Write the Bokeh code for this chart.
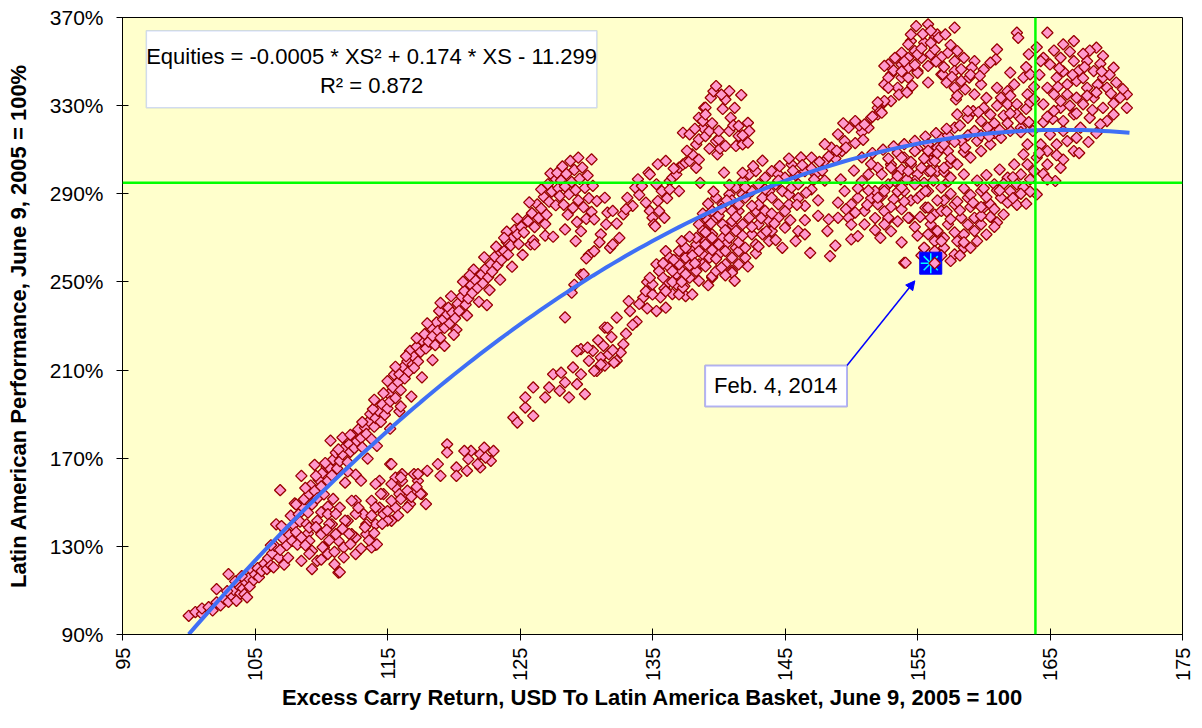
import math
from bokeh.plotting import figure
from bokeh.models import (ColumnDataSource, FixedTicker, PrintfTickFormatter, Span,
                          BoxAnnotation, Label, Arrow, NormalHead)
from bokeh.embed import file_html
from bokeh.resources import INLINE

# ---------------- data (x = excess carry return index, y = equity performance %) -------------
x_ticks = [95, 105, 115, 125, 135, 145, 155, 165, 175]
y_ticks = [90, 130, 170, 210, 250, 290, 330, 370]

# trend line coefficients (fraction units), as fitted
trend_a, trend_b, trend_c = -0.000526, 0.1746, -11.299
trend_x_start, trend_x_end = 100.0, 171.0

latest_xs = 163.9      # vertical green reference
latest_eq = 295.0      # horizontal green reference
feb4_x, feb4_y = 156.0, 258.5

tail_pts = [
    (100.0, 98.5), (100.5, 100.2), (101.0, 99.3), (101.0, 101.8), (101.5, 102.4), (101.8, 100.9),
    (102.1, 104.6), (102.1, 110.6), (102.4, 103.2), (102.7, 106.1), (103.0, 104.8), (103.0, 117.4),
    (103.2, 107.9), (103.4, 110.2), (103.6, 105.3), (103.7, 112.5), (103.9, 108.6), (104.1, 110.9),
    (104.2, 108.3), (104.3, 113.8), (104.5, 115.6), (104.6, 111.8), (104.8, 119.0), (104.9, 114.7),
    (105.0, 117.3), (105.2, 120.1), (105.3, 116.0), (105.5, 118.8), (105.7, 122.2), (105.9, 119.7),
    (106.0, 124.6), (106.2, 121.3), (102.9, 109.7), (103.5, 114.1), (104.0, 116.5), (104.4, 106.9),
]

branch_a = [
    (106.3, 126.8), (106.5, 130.2), (106.6, 140.0), (106.8, 124.9), (106.9, 128.4), (106.9, 155.5),
    (107.1, 133.6), (107.2, 121.7), (107.3, 137.1), (107.4, 130.5), (107.6, 135.2), (107.7, 143.9),
    (107.8, 132.5), (107.9, 139.8), (108.0, 149.5), (108.1, 136.4), (108.3, 144.6), (108.4, 141.2),
    (108.5, 162.0), (108.6, 147.8), (108.7, 151.4), (108.9, 140.0), (109.0, 145.3), (109.1, 153.7),
    (109.2, 157.6), (109.3, 149.0), (109.5, 167.0), (109.5, 155.1), (109.7, 151.8), (109.8, 160.3),
    (110.0, 157.2), (110.1, 163.4), (110.2, 153.6), (110.4, 166.1), (110.5, 159.8), (110.6, 165.8),
    (110.7, 178.0), (110.8, 162.2), (110.9, 169.4), (111.1, 172.5), (111.2, 165.3), (111.4, 168.7),
    (111.6, 171.8), (111.6, 179.4), (111.8, 175.1), (112.0, 168.2), (112.1, 176.3), (112.2, 172.9),
    (112.4, 180.2), (112.5, 174.6), (112.7, 177.8), (112.8, 183.1), (113.0, 179.2), (113.1, 174.9),
    (113.3, 183.9), (113.4, 181.0), (113.6, 186.8), (113.7, 190.0), (113.8, 178.6), (114.0, 184.3),
    (114.1, 188.2), (114.3, 191.5), (114.5, 186.5), (114.6, 194.4), (114.8, 189.7), (115.0, 205.0),
    (115.0, 192.6), (115.1, 199.1), (115.2, 195.8), (115.4, 202.2), (115.5, 208.0), (115.6, 197.3),
    (115.8, 204.5), (115.9, 208.1), (116.0, 200.9), (116.2, 211.4), (116.3, 206.2), (116.5, 214.0),
    (116.6, 209.3), (116.7, 218.7), (116.9, 212.5), (117.0, 216.0), (117.2, 220.6), (117.3, 213.9),
    (117.5, 218.3), (117.6, 223.5), (117.8, 226.3), (117.9, 219.8), (118.1, 222.9), (118.3, 229.2),
    (118.4, 225.4), (118.6, 221.3), (118.7, 231.6), (118.8, 227.8), (119.0, 224.6), (119.2, 233.0),
    (119.3, 229.1), (119.5, 235.4), (119.6, 238.3), (119.7, 231.2), (119.9, 236.0), (120.1, 233.5),
    (120.3, 240.1), (120.4, 236.8), (120.6, 243.4), (120.8, 245.9), (120.9, 239.7), (121.1, 242.5),
    (121.3, 248.6), (121.4, 245.0), (121.6, 251.0), (121.8, 247.3), (122.1, 253.5), (122.2, 249.4),
    (122.4, 256.0), (122.6, 252.1), (122.8, 258.0), (122.9, 254.6), (123.1, 261.4), (123.3, 257.5),
    (123.5, 263.8), (123.6, 259.9), (123.8, 264.0), (124.0, 268.1), (124.1, 262.4), (124.3, 266.5),
    (124.5, 270.4), (124.6, 273.6), (124.8, 271.6), (124.9, 267.2), (125.1, 275.0), (125.3, 272.4),
    (125.5, 278.1), (125.6, 277.6), (125.8, 267.0), (125.9, 281.2), (126.1, 274.9), (126.3, 285.2),
    (126.4, 279.0), (126.6, 283.3), (126.8, 288.6), (126.9, 276.3), (127.1, 294.3), (127.2, 286.4),
    (127.4, 291.0), (127.6, 297.3), (127.7, 284.8), (127.9, 292.5),
]

branch_a_edges = [
    (106.2, 130.5), (106.4, 120.5), (107.0, 139.2), (107.5, 124.8), (108.1, 149.0), (108.2, 130.8),
    (108.8, 156.5), (109.0, 135.9), (109.6, 162.0), (110.0, 145.5), (110.3, 167.8), (110.9, 151.5),
    (111.3, 174.0), (111.8, 158.9), (112.2, 180.6), (112.6, 162.5), (113.1, 186.4), (113.5, 169.8),
    (113.9, 192.3), (114.2, 175.6), (114.7, 199.5), (115.2, 183.4), (115.6, 211.5), (115.9, 191.2),
    (116.4, 216.3), (116.8, 198.0), (117.2, 224.5), (117.6, 206.7), (118.0, 231.2), (118.4, 214.5),
    (118.9, 236.8), (119.3, 221.0), (119.8, 243.5), (120.2, 228.3), (120.7, 250.1), (121.0, 234.8),
    (121.5, 255.6), (121.9, 241.0), (122.3, 261.2), (122.7, 246.3), (123.2, 266.0), (123.5, 251.0),
    (124.0, 272.8), (124.4, 256.9), (124.8, 278.6), (125.2, 262.3), (125.7, 286.1), (126.0, 268.8),
    (126.6, 292.0), (126.9, 271.0), (127.3, 299.2), (127.0, 280.5), (119.0, 240.5), (120.0, 226.0),
    (121.2, 253.0), (122.5, 239.5), (123.8, 270.0), (117.0, 211.0), (116.0, 193.5), (114.0, 196.5),
    (112.0, 164.0), (110.5, 148.0),
]

peak_a = [
    (127.8, 299.5), (128.0, 289.0), (128.1, 296.0), (128.2, 302.4), (128.3, 285.0), (128.4, 293.3),
    (128.5, 299.0), (128.6, 280.5), (128.7, 289.8), (128.8, 304.9), (128.9, 295.4), (129.0, 283.6),
    (129.1, 300.8), (129.2, 291.7), (129.3, 277.2), (129.4, 306.4), (129.4, 287.0), (129.5, 296.8),
    (129.6, 273.0), (129.7, 301.9), (129.8, 283.9), (129.9, 292.7), (130.0, 278.6), (130.1, 298.3),
    (130.2, 288.0), (130.4, 305.6), (130.4, 281.8), (130.5, 293.6), (130.6, 278.4), (130.8, 286.7),
    (127.5, 270.5), (126.1, 267.0), (128.4, 273.8), (129.2, 268.5), (130.2, 262.2), (129.6, 253.2),
    (129.1, 248.7), (128.9, 245.1), (129.8, 253.5), (130.0, 260.7),
]

branch_a2 = [
    (130.6, 264.0), (131.1, 271.6), (131.4, 288.2), (131.5, 276.1), (131.6, 281.4), (131.8, 265.5),
    (132.0, 267.0), (132.0, 282.2), (132.5, 270.0), (132.8, 280.7), (133.1, 288.2), (133.5, 284.5),
    (133.7, 292.8), (133.9, 296.6), (134.2, 293.5), (134.7, 299.6), (134.8, 282.2), (134.8, 298.8),
    (135.0, 279.1), (135.1, 276.1), (135.2, 275.3), (135.3, 294.3), (135.4, 286.7), (135.4, 303.4),
    (135.5, 282.2), (135.7, 291.2), (135.9, 279.1), (136.0, 304.9), (136.1, 288.0), (136.3, 295.8),
    (136.5, 297.3), (136.8, 298.8), (137.0, 291.2), (137.0, 301.9), (137.3, 303.3), (137.3, 317.7),
    (137.5, 304.1), (137.8, 304.9), (137.8, 317.0), (138.0, 307.9), (138.3, 301.8), (138.3, 312.4),
    (138.5, 314.7), (138.5, 324.5), (138.8, 320.0), (138.8, 323.0), (138.9, 329.0), (139.0, 316.2),
    (139.0, 329.1), (139.3, 318.5), (139.4, 333.6), (139.6, 336.5), (139.8, 338.9), (139.8, 313.9),
    (139.9, 307.9), (140.1, 310.5), (140.0, 314.7), (140.4, 299.6), (140.3, 328.5), (140.5, 332.8),
    (140.5, 311.7), (140.8, 336.6), (140.8, 318.5), (140.9, 324.5), (141.1, 321.0), (141.2, 329.0),
    (141.3, 311.7), (141.5, 316.2), (141.5, 320.8), (141.7, 334.8), (141.8, 312.4), (142.2, 322.2),
    (142.2, 313.2), (142.3, 318.5), (131.0, 268.0), (132.3, 276.5), (133.0, 283.0), (134.0, 289.5),
    (134.5, 286.0), (136.3, 292.0), (136.6, 301.5), (137.6, 309.5), (138.5, 305.5), (139.3, 310.5),
    (139.5, 322.0), (140.2, 335.0), (140.0, 318.5), (141.8, 316.5), (138.2, 319.5), (139.0, 326.0),
]

branch_b = [
    (109.3, 119.7), (111.3, 118.1), (111.0, 121.9), (114.1, 130.7), (109.3, 128.0), (110.2, 129.5),
    (111.3, 132.5), (112.6, 134.0), (113.4, 135.5), (114.1, 140.0), (115.3, 141.6), (115.6, 147.6),
    (116.7, 149.2), (117.6, 153.7), (117.9, 149.2), (117.3, 159.7), (117.0, 162.8), (116.1, 159.7),
    (115.6, 156.7), (114.7, 153.7), (113.8, 150.7), (112.6, 150.7), (111.4, 147.6), (110.5, 144.6),
    (109.7, 141.6), (109.1, 138.5), (110.0, 135.5), (110.8, 140.0), (112.0, 141.6), (113.2, 144.6),
    (114.4, 147.6), (115.3, 150.7), (116.4, 153.7), (112.3, 135.5), (111.7, 129.5), (112.6, 126.5),
    (113.8, 129.5), (113.4, 140.0), (114.7, 144.6), (115.9, 153.7), (117.0, 155.2), (109.1, 132.5),
    (108.5, 134.0), (108.5, 123.4), (109.7, 123.4), (110.5, 126.5), (111.7, 125.0), (111.1, 135.5),
    (114.4, 159.7), (115.6, 161.2), (115.2, 167.3), (116.1, 162.8), (113.0, 159.8), (114.5, 153.8),
    (116.0, 161.3), (117.5, 153.8), (116.5, 147.7), (115.0, 141.7), (113.3, 138.7), (112.1, 135.7),
    (110.6, 132.7), (110.1, 129.6), (109.1, 126.6), (109.6, 138.7), (111.1, 144.7), (112.3, 150.7),
    (114.1, 147.7), (113.6, 132.7), (114.6, 140.2), (116.5, 155.3), (117.3, 162.8), (115.3, 158.3),
    (114.1, 158.3), (111.8, 141.7), (112.6, 144.7), (110.6, 140.2), (111.4, 118.3), (114.2, 130.9),
    (115.3, 167.3), (108.8, 130.5), (110.0, 124.0), (111.0, 127.5), (112.2, 131.0), (113.0, 129.0),
    (114.0, 136.0), (115.0, 146.0), (116.0, 151.5), (117.2, 157.0), (112.8, 147.5), (111.6, 138.0),
    (110.4, 137.5), (113.8, 144.0), (115.8, 144.0), (116.8, 152.5),
]

branch_b2 = [
    (118.0, 164.3), (118.8, 167.3), (119.0, 162.0), (119.5, 176.3), (119.5, 172.6), (120.2, 165.8),
    (121.0, 164.3), (121.3, 173.3), (122.0, 171.8), (122.3, 174.8), (123.0, 173.3), (122.8, 168.8),
    (122.0, 165.8), (120.2, 162.0), (121.1, 169.6), (120.8, 173.3), (122.4, 170.3), (121.8, 167.3),
]

branch_c = [
    (124.5, 188.5), (124.8, 186.2), (126.0, 189.2), (125.4, 193.0), (126.0, 202.1), (125.4, 197.6),
    (127.2, 202.1), (126.9, 197.6), (128.0, 200.6), (127.5, 208.1), (128.4, 204.4), (128.7, 197.6),
    (129.3, 203.6), (129.9, 199.1), (129.6, 219.5), (130.5, 218.7), (130.2, 214.2), (131.1, 215.7),
    (130.8, 209.6), (131.4, 212.0), (129.6, 208.1), (129.0, 211.2), (131.7, 217.2), (132.3, 214.2),
    (131.4, 229.3), (128.4, 233.9), (128.1, 208.8), (129.3, 218.6), (130.1, 220.2), (131.1, 212.6),
    (132.1, 213.4), (130.6, 209.6), (131.6, 229.2), (132.3, 233.8), (133.3, 236.8), (132.8, 221.7),
    (133.2, 241.3), (134.3, 242.9), (134.8, 245.9), (135.3, 236.8), (136.0, 238.3), (135.5, 255.0),
    (136.3, 256.5), (137.0, 261.0), (136.8, 253.5), (137.4, 248.1), (137.5, 243.6), (138.5, 258.0),
    (138.0, 264.0), (138.3, 267.0), (139.0, 268.6), (139.5, 271.6), (139.5, 252.0), (140.3, 270.0),
    (141.0, 276.1), (141.5, 282.2), (141.0, 255.0), (141.8, 289.7), (141.3, 265.5), (140.0, 262.5),
    (133.8, 232.0), (134.0, 240.0), (134.6, 250.0), (135.9, 247.0), (136.5, 244.5), (137.2, 255.0),
    (133.0, 226.5), (132.6, 218.0), (131.9, 225.0), (130.9, 223.5), (131.3, 221.0), (132.0, 219.0),
    (133.5, 230.5), (134.6, 238.0), (135.6, 243.0), (136.2, 250.0), (137.8, 257.5), (138.8, 262.5),
    (139.8, 266.5), (140.6, 267.5),
]

cluster_m = [
    (134.5, 245.8), (135.0, 244.3), (135.0, 248.9), (134.8, 251.9), (135.3, 258.0), (135.5, 254.9),
    (135.8, 251.9), (136.0, 245.8), (136.0, 264.0), (136.3, 261.0), (136.5, 254.9), (136.8, 248.9),
    (137.0, 244.3), (137.0, 258.0), (137.0, 264.0), (137.3, 247.4), (137.5, 261.0), (137.5, 265.5),
    (137.8, 251.9), (138.0, 244.3), (138.3, 254.9), (138.3, 270.0), (138.5, 264.0), (138.5, 276.1),
    (138.8, 258.0), (138.8, 273.1), (139.0, 267.0), (139.0, 279.1), (139.3, 261.0), (139.3, 276.1),
    (139.5, 270.0), (139.5, 282.2), (139.5, 252.6), (139.8, 254.9), (139.8, 279.1), (139.8, 288.2),
    (140.0, 267.0), (140.3, 276.1), (140.3, 285.2), (140.5, 258.0), (140.5, 264.0), (140.8, 270.0),
    (140.8, 289.7), (141.0, 261.0), (141.0, 254.2), (141.0, 277.6), (141.0, 282.2), (141.3, 273.1),
    (141.3, 292.8), (141.5, 258.0), (141.5, 264.0), (141.5, 285.2), (141.8, 276.1), (141.8, 295.8),
    (142.0, 261.0), (142.0, 265.5), (142.0, 288.2), (142.3, 279.1), (142.3, 298.8), (142.5, 271.6),
    (142.5, 291.2), (142.8, 267.0), (142.8, 282.2), (142.8, 300.3), (143.0, 276.1), (143.0, 294.3),
    (143.3, 271.6), (143.3, 288.2), (143.5, 282.2), (143.5, 297.3), (143.8, 277.6), (143.8, 291.2),
    (144.0, 273.1), (144.0, 288.2), (144.0, 300.3), (144.3, 294.3), (144.5, 279.1), (144.5, 285.2),
    (144.5, 298.8), (144.8, 291.2), (145.0, 274.6), (145.0, 297.3), (145.3, 285.2), (145.3, 289.7),
    (145.5, 292.8), (145.5, 303.3), (146.0, 294.3), (146.0, 273.1), (146.5, 271.6), (146.5, 300.3),
    (146.9, 263.2), (147.0, 306.4), (147.3, 298.8), (148.0, 304.9), (148.4, 261.7), (148.5, 310.9),
    (149.3, 309.4), (149.5, 313.9), (138.0, 262.0), (139.0, 272.5), (140.0, 280.0), (141.0, 287.0),
    (142.0, 293.0), (143.0, 285.0), (144.0, 281.0), (142.5, 275.0), (141.5, 268.0), (140.5, 273.5),
    (139.5, 264.5), (143.5, 292.0), (144.5, 296.0), (145.0, 282.0), (146.0, 288.0), (145.8, 298.5),
    (146.5, 284.5), (147.0, 292.0), (147.5, 287.0), (148.0, 296.0), (136.5, 250.0), (137.5, 253.5),
    (138.5, 250.5), (139.0, 257.0), (139.8, 260.5), (140.5, 253.0), (141.3, 279.5), (142.5, 284.5),
    (143.2, 279.0), (144.2, 276.5), (143.8, 268.5), (142.8, 263.0), (141.8, 271.0), (140.2, 283.0),
    (139.2, 285.5), (138.8, 281.0), (140.8, 294.0), (141.8, 299.5), (142.6, 302.5), (143.3, 305.0),
    (144.6, 302.5), (145.3, 306.0), (146.2, 306.5), (146.5, 278.0), (145.8, 268.5), (144.8, 265.5),
    (147.5, 280.0), (147.8, 300.5), (148.8, 306.0), (149.0, 317.0), (148.0, 312.5), (149.8, 320.0),
    (150.8, 318.0), (151.5, 324.5), (137.2, 250.0), (138.2, 258.5), (139.2, 248.5), (140.2, 256.5),
    (141.2, 250.5), (142.2, 257.0), (143.0, 266.0), (143.6, 273.0), (144.3, 269.0), (145.4, 278.0),
    (145.9, 285.0), (146.6, 290.5), (147.2, 296.5), (140.6, 287.0), (139.6, 291.0), (138.6, 295.0),
    (139.4, 276.5), (137.8, 270.5), (137.2, 268.5), (136.6, 260.0), (135.8, 258.5), (145.6, 300.5),
    (146.3, 303.0), (147.0, 301.5), (147.6, 304.5), (148.3, 307.0), (148.9, 309.5), (149.6, 311.0),
    (150.3, 313.0), (150.9, 314.5), (149.4, 322.0), (150.6, 321.0), (151.3, 320.0), (152.3, 330.5),
    (152.0, 329.0),
]

cluster_n = [
    (149.5, 291.2), (150.5, 288.2), (150.0, 285.2), (151.0, 282.2), (152.0, 285.2), (151.8, 291.2),
    (152.8, 294.3), (153.5, 298.8), (154.5, 303.3), (155.8, 307.9), (156.5, 310.9), (153.0, 303.3),
    (154.0, 306.4), (155.0, 298.8), (155.8, 300.3), (156.5, 300.3), (154.0, 291.2), (154.8, 295.8),
    (155.8, 291.2), (156.8, 292.8), (150.8, 295.8), (151.3, 298.8), (152.0, 301.8), (149.8, 279.1),
    (149.0, 279.1), (148.3, 278.4), (148.2, 273.1), (150.0, 269.3), (150.5, 270.8), (151.0, 276.1),
    (152.8, 278.4), (154.4, 279.1), (155.6, 283.7), (156.3, 280.6), (156.0, 276.1), (156.5, 273.1),
    (156.3, 268.5), (155.5, 265.5), (154.0, 258.7), (151.5, 288.0), (152.5, 282.0), (153.2, 287.5),
    (153.8, 283.0), (154.5, 287.0), (155.2, 279.5), (153.0, 273.0), (152.2, 270.0), (155.0, 271.0),
    (157.0, 287.0), (157.3, 295.5), (157.5, 304.0), (150.2, 300.5), (149.2, 296.5), (150.5, 292.5),
    (151.2, 285.0), (152.3, 289.0), (153.5, 291.0), (154.2, 296.5), (155.5, 295.0), (156.2, 296.0),
    (153.8, 301.0), (152.8, 306.0), (151.5, 303.5), (150.0, 276.0), (151.8, 273.5), (153.5, 277.5),
    (154.8, 275.0), (153.8, 268.0), (155.3, 262.0), (157.0, 300.0), (156.0, 305.0), (149.0, 286.0),
    (148.8, 266.5), (150.3, 281.5), (151.3, 291.5), (152.5, 292.5), (153.0, 284.0), (154.0, 286.5),
    (155.0, 288.0), (151.8, 279.0), (149.6, 283.0), (150.8, 306.5), (151.6, 308.5), (152.4, 310.0),
    (153.2, 311.5), (154.0, 312.5), (154.8, 314.0), (155.6, 316.0), (153.5, 308.5), (155.0, 310.5),
]

peak_2 = [
    (150.3, 323.0), (151.0, 321.5), (152.0, 326.0), (152.2, 327.5), (153.0, 332.1), (152.5, 339.6),
    (153.0, 344.2), (152.8, 348.7), (153.8, 348.7), (153.8, 342.7), (154.3, 351.7), (154.8, 354.8),
    (154.5, 359.3), (154.9, 366.1), (155.8, 366.9), (155.5, 358.6), (155.3, 351.7), (156.0, 353.3),
    (156.3, 360.8), (155.8, 348.0), (155.0, 345.7), (154.3, 342.7), (153.5, 338.1), (156.8, 344.2),
    (156.5, 362.3), (157.8, 365.4), (156.6, 360.8), (157.1, 362.3), (154.5, 362.3), (154.3, 357.8),
    (155.0, 353.3), (153.8, 354.0), (153.3, 351.7), (152.5, 348.0), (154.3, 347.2), (152.8, 342.7),
    (155.0, 344.9), (156.3, 355.5), (157.3, 354.0), (158.0, 354.8), (158.5, 351.7), (157.8, 350.2),
    (159.3, 350.2), (160.0, 346.4), (159.1, 347.2), (156.9, 344.2), (157.8, 345.7), (158.3, 341.2),
    (158.9, 342.7), (159.8, 339.6), (158.6, 337.4), (157.8, 338.1), (157.9, 332.8), (159.3, 335.1),
    (161.0, 355.5), (160.9, 351.0), (152.8, 338.1), (152.5, 332.1), (152.3, 326.8), (153.2, 346.0),
    (154.0, 350.0), (155.3, 356.0), (156.0, 358.5), (156.8, 352.0), (157.5, 357.5), (158.3, 346.5),
    (159.0, 344.0), (158.0, 334.5), (157.2, 340.5), (155.8, 340.5), (154.6, 339.0), (153.6, 335.0),
    (152.0, 331.5), (151.6, 325.0), (159.7, 343.5), (160.5, 349.5), (153.8, 345.5), (154.8, 348.5),
    (156.4, 350.0), (157.0, 347.5), (157.6, 343.0), (155.4, 362.5), (156.0, 364.0), (154.2, 336.0),
]

band_u = [
    (152.3, 298.8), (153.0, 301.8), (153.8, 306.4), (154.8, 309.4), (155.8, 312.4), (156.8, 315.4),
    (157.8, 320.0), (158.8, 324.5), (159.8, 323.0), (160.5, 326.0), (161.3, 333.6), (161.8, 336.6),
    (162.3, 339.6), (163.0, 342.7), (163.5, 344.2), (161.0, 338.1), (161.8, 330.6), (162.5, 330.6),
    (163.3, 335.1), (160.3, 320.0), (159.3, 318.5), (158.3, 313.9), (157.3, 309.4), (156.3, 304.9),
    (155.3, 301.8), (154.3, 300.3), (153.3, 295.8), (152.5, 291.2), (152.0, 288.2), (156.0, 300.3),
    (157.0, 301.8), (158.0, 303.3), (159.0, 306.4), (159.8, 309.4), (160.5, 312.4), (161.3, 315.4),
    (162.0, 318.5), (162.8, 320.0), (154.8, 294.3), (153.8, 292.8), (157.5, 297.3), (158.5, 298.8),
    (155.3, 289.7), (152.8, 279.1), (154.3, 279.1), (152.5, 276.1), (160.0, 329.0), (160.8, 322.0),
    (161.5, 325.5), (162.5, 326.0), (163.2, 328.5), (159.5, 314.0), (158.5, 309.0), (157.5, 306.0),
    (156.5, 308.5), (155.5, 306.0), (153.5, 298.0), (154.5, 304.5), (155.8, 309.5), (156.8, 311.0),
    (157.8, 313.5), (158.8, 316.5), (159.8, 316.5), (160.8, 317.5), (161.8, 322.0), (162.8, 324.0),
    (163.5, 331.5), (162.0, 334.5), (161.0, 330.0), (160.2, 333.5), (159.2, 327.5), (158.2, 321.0),
    (157.3, 316.5), (163.7, 318.5), (164.5, 322.5), (165.2, 324.0), (156.4, 317.5), (157.2, 319.5),
    (158.0, 326.0), (158.8, 327.5), (159.6, 327.0), (160.4, 316.0), (161.2, 319.0), (162.0, 326.5),
    (162.8, 318.0), (163.4, 322.5), (157.0, 312.5), (158.6, 311.0),
]

band_l = [
    (155.5, 265.5), (156.3, 264.0), (157.0, 265.5), (157.8, 262.5), (158.5, 265.5), (159.0, 265.5),
    (155.8, 271.6), (156.5, 273.1), (157.3, 276.1), (158.3, 279.1), (159.3, 279.1), (160.0, 283.7),
    (156.0, 279.1), (155.8, 283.7), (156.8, 282.2), (157.8, 285.2), (158.8, 288.2), (159.8, 291.2),
    (160.8, 294.3), (161.8, 297.3), (162.8, 298.8), (161.3, 288.2), (160.5, 285.2), (162.0, 291.2),
    (162.5, 294.3), (159.3, 273.1), (158.5, 271.6), (158.0, 268.5), (159.8, 276.1), (161.5, 280.6),
    (163.3, 303.3), (164.0, 306.4), (164.8, 309.4), (165.5, 312.4), (166.3, 313.9), (166.8, 309.4),
    (165.8, 301.8), (164.8, 303.3), (163.8, 300.3), (165.4, 295.8), (164.0, 289.7), (163.0, 307.9),
    (164.3, 312.4), (165.0, 316.9), (166.0, 318.5), (167.0, 315.4), (163.3, 312.4), (162.3, 303.3),
    (154.1, 258.7), (155.6, 291.2), (157.0, 270.0), (159.0, 284.0), (160.5, 279.5), (161.0, 291.5),
    (162.5, 285.0), (163.0, 293.0), (161.2, 301.0), (160.2, 298.5), (159.5, 296.0), (158.5, 292.5),
    (157.5, 290.0), (156.5, 287.0), (167.9, 313.5), (168.5, 317.5), (156.8, 268.5), (157.8, 272.5),
    (158.8, 276.0), (159.8, 280.0), (160.8, 283.0), (161.8, 286.0), (162.8, 290.0), (163.5, 296.5),
    (164.5, 299.0), (161.0, 277.0), (160.2, 271.5), (159.5, 268.5), (158.2, 262.0), (156.2, 260.5),
    (157.2, 282.0), (158.0, 286.5), (159.0, 289.5), (160.0, 292.5), (161.5, 294.5), (162.2, 297.5),
    (163.2, 285.5), (164.8, 296.5), (166.0, 305.5), (167.2, 308.5), (165.5, 307.5), (164.2, 308.5),
    (157.5, 278.5), (158.2, 282.5), (159.2, 286.0), (160.2, 288.5), (161.2, 291.5), (162.2, 288.0),
    (163.5, 291.0), (160.8, 275.0), (159.8, 284.0), (158.5, 268.0), (157.5, 259.5), (156.8, 262.0),
]

cluster_r = [
    (166.0, 357.8), (166.8, 359.3), (168.5, 356.3), (169.0, 352.5), (169.8, 347.2), (170.8, 335.1),
    (170.3, 333.6), (170.8, 329.0), (169.8, 326.0), (169.3, 323.0), (168.8, 321.5), (168.0, 324.5),
    (167.5, 330.6), (168.3, 333.6), (167.8, 338.1), (167.0, 341.2), (166.3, 339.6), (165.5, 342.7),
    (165.0, 348.7), (165.8, 351.7), (166.8, 350.2), (167.8, 350.2), (168.3, 345.7), (169.0, 342.7),
    (169.3, 338.1), (167.0, 333.6), (166.3, 335.1), (165.8, 329.0), (165.3, 327.6), (166.8, 326.0),
    (167.3, 320.0), (169.0, 329.0), (164.5, 351.7), (164.8, 338.1), (165.3, 335.1), (164.5, 330.6),
    (162.5, 363.1), (162.6, 360.8), (163.4, 353.3), (164.8, 363.1), (164.3, 350.2), (168.0, 355.0),
    (167.2, 346.0), (166.0, 345.5), (164.2, 344.0), (163.8, 338.5), (170.0, 340.5), (168.6, 339.5),
    (164.0, 356.5), (165.3, 355.0), (166.5, 354.5), (167.5, 353.5), (168.8, 349.0), (169.5, 344.0),
    (170.5, 337.5), (169.8, 331.0), (168.2, 328.0), (167.0, 326.5), (166.0, 323.0), (164.8, 325.0),
    (163.8, 333.0), (165.8, 332.0), (167.5, 342.5), (168.5, 336.0), (163.2, 347.5), (162.0, 345.0),
    (165.7, 347.0), (166.7, 344.0), (167.6, 347.5), (168.9, 345.5), (169.6, 335.5), (166.5, 330.0),
    (167.8, 334.5), (165.6, 338.5),
]

# ---------------- build ----------------
clusters = [tail_pts, branch_a, branch_a_edges, peak_a, branch_a2, branch_b, branch_b2, branch_c,
            cluster_m, cluster_n, peak_2, band_u, band_l, cluster_r]
pts = [pt for c in clusters for pt in c]
src = ColumnDataSource(dict(x=[q[0] for q in pts], y=[q[1] for q in pts]))

n_steps = 142
trend_x = [trend_x_start + (trend_x_end - trend_x_start) * i / n_steps for i in range(n_steps + 1)]
trend_y = [100.0 * (trend_a * xv * xv + trend_b * xv + trend_c) for xv in trend_x]

FONT = "Liberation Sans"

p = figure(width=1194, height=712, x_range=(95, 175), y_range=(90, 370),
           output_backend="svg", toolbar_location=None,
           min_border_left=122, min_border_right=12, min_border_top=17, min_border_bottom=76,
           background_fill_color="#FFFFCC", border_fill_color="white",
           outline_line_color="black", outline_line_width=1)
p.grid.visible = False

p.scatter("x", "y", source=src, marker="square", angle=math.pi / 4, size=8,
          fill_color="#FF99CC", line_color="#990000", line_width=1.3)

p.line(trend_x, trend_y, line_color="#3F6FF5", line_width=4)

p.add_layout(Span(location=latest_eq, dimension="width", line_color="#00FF00", line_width=2.5))
p.add_layout(Span(location=latest_xs, dimension="height", line_color="#00FF00", line_width=2.5))

# highlighted Feb. 4, 2014 point
p.scatter([feb4_x], [feb4_y], marker="square", size=22, fill_color="#0000FF", line_color="#0000FF")
p.scatter([feb4_x], [feb4_y], marker="asterisk", size=20, line_color="#00FFFF", line_width=1.5)
p.scatter([feb4_x + 0.3], [feb4_y], marker="square", angle=math.pi / 4, size=8,
          fill_color="#FF99CC", line_color="#990000", line_width=1.3)

# equation box
p.add_layout(BoxAnnotation(left=96.8, right=130.8, top=364.0, bottom=329.1,
                           fill_color="white", fill_alpha=1.0,
                           line_color="#6688EE", line_width=1.5, level="overlay"))
p.add_layout(Label(x=113.8, y=352.5, text="Equities = -0.0005 * XS\u00b2 + 0.174 * XS - 11.299",
                   text_align="center", text_baseline="middle", text_font=FONT,
                   text_font_size="22px", text_color="black", level="overlay"))
p.add_layout(Label(x=113.8, y=339.0, text="R\u00b2 = 0.872",
                   text_align="center", text_baseline="middle", text_font=FONT,
                   text_font_size="22px", text_color="black", level="overlay"))

# Feb. 4, 2014 callout
p.add_layout(BoxAnnotation(left=138.97, right=149.68, top=212.05, bottom=193.45,
                           fill_color="white", fill_alpha=1.0,
                           line_color="#0000FF", line_width=2, level="overlay"))
p.add_layout(Label(x=144.3, y=202.8, text="Feb. 4, 2014", text_align="center",
                   text_baseline="middle", text_font=FONT, text_font_size="22px",
                   text_color="black", level="overlay"))
p.add_layout(Arrow(end=NormalHead(size=9, fill_color="#0000FF", line_color="#0000FF"),
                   x_start=149.68, y_start=212.05, x_end=154.8, y_end=250.5,
                   line_color="#0000FF", line_width=1.5))

# axes
p.xaxis.ticker = FixedTicker(ticks=x_ticks)
p.yaxis.ticker = FixedTicker(ticks=y_ticks)
p.yaxis.formatter = PrintfTickFormatter(format="%d%%")
p.xaxis.major_label_orientation = math.pi / 2
for ax in (p.xaxis[0], p.yaxis[0]):
    ax.major_tick_in = 6
    ax.major_tick_out = 6
    ax.minor_tick_line_color = None
    ax.axis_line_color = "black"
    ax.major_tick_line_color = "black"
    ax.major_label_text_font = FONT
    ax.major_label_text_color = "black"
    ax.axis_label_text_font = FONT
    ax.axis_label_text_font_size = "22px"
    ax.axis_label_text_font_style = "bold"
    ax.axis_label_text_color = "black"

p.xaxis.major_label_text_font_size = "20px"
p.yaxis.major_label_text_font_size = "21px"
p.xaxis.axis_label = "Excess Carry Return, USD To Latin America Basket, June 9, 2005 = 100"
p.yaxis.axis_label = "Latin American Performance, June 9, 2005 = 100%"
p.xaxis.major_label_standoff = 7
p.xaxis.axis_label_standoff = 1
p.yaxis.major_label_standoff = 13
p.yaxis.axis_label_standoff = 16

open("out.html", "w").write(file_html(p, INLINE))
